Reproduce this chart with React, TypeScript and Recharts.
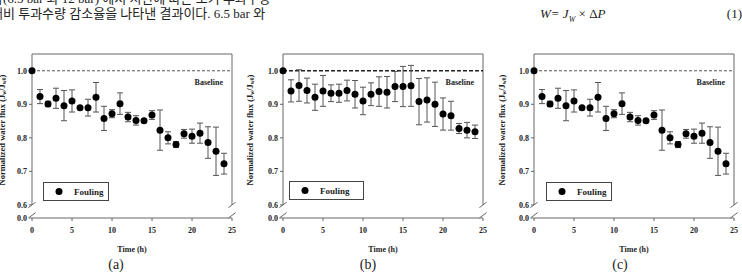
import React from "react";
import {
  ScatterChart,
  Scatter,
  XAxis,
  YAxis,
  ErrorBar,
  ReferenceLine,
  Legend,
} from "recharts";

// operating time (h)
const hours = [
  0, 1, 2, 3, 4, 5, 6, 7, 8, 9, 10, 11, 12, 13, 14, 15, 16, 17, 18, 19, 20, 21,
  22, 23, 24,
];

// normalized flux J_w / J_w0 and its standard deviation
const fluxA = [
  1.0, 0.923, 0.901, 0.918, 0.896, 0.91, 0.89, 0.89, 0.921, 0.858, 0.872,
  0.902, 0.862, 0.852, 0.851, 0.868, 0.823, 0.8, 0.78, 0.812, 0.805, 0.814,
  0.786, 0.76, 0.723,
];
const errA = [
  0, 0.021, 0.008, 0.03, 0.045, 0.033, 0.003, 0.025, 0.044, 0.036, 0.012,
  0.032, 0.014, 0.014, 0.004, 0.013, 0.06, 0.018, 0.009, 0.013, 0.021, 0.03,
  0.047, 0.072, 0.031,
];

const fluxB = [
  1.0, 0.94, 0.956, 0.941, 0.921, 0.94, 0.933, 0.933, 0.941, 0.93, 0.91, 0.93,
  0.938, 0.936, 0.953, 0.953, 0.955, 0.908, 0.913, 0.9, 0.871, 0.866, 0.828,
  0.823, 0.818,
];
const errB = [
  0, 0.033, 0.047, 0.037, 0.039, 0.046, 0.025, 0.027, 0.031, 0.041, 0.041,
  0.034, 0.044, 0.047, 0.045, 0.06, 0.061, 0.069, 0.066, 0.066, 0.048, 0.043,
  0.015, 0.023, 0.02,
];

// (c) repeats the (a) run
const fluxC = fluxA;
const errC = errA;

// the y axis is broken between 0.0 and 0.6; AXIS_BREAK stands in for 0.0
const AXIS_BREAK = 0.561;
const Y_TOP = 1.05;
const yTicks = [AXIS_BREAK, 0.6, 0.7, 0.8, 0.9, 1.0];
const xTicks = [0, 5, 10, 15, 20, 25];

const SERIF = '"Liberation Serif", "Times New Roman", serif';
const KOREAN = '"Liberation Serif", "Noto Sans CJK KR", serif';
const FRAME = "#666";

const axisText = {
  fontFamily: SERIF,
  fontSize: 8,
  fontWeight: 700,
  fill: "#222",
};

function FluxLabel({ viewBox, dx }: any) {
  const vb = viewBox || {};
  const left = (vb.x ?? 40) + (vb.width ?? 32);
  const cx = left + dx;
  const cy = (vb.y ?? 54) + (vb.height ?? 164) / 2 - 6;
  return (
    <text
      x={cx}
      y={cy}
      transform={`rotate(-90 ${cx} ${cy})`}
      textAnchor="middle"
      dominantBaseline="central"
      style={{ ...axisText, fontSize: 8.5 }}
    >
      Normalized water flux (J
      <tspan dy={2} fontSize={5.5}>
        w
      </tspan>
      <tspan dy={-2}>/J</tspan>
      <tspan dy={2} fontSize={5.5}>
        w0
      </tspan>
      <tspan dy={-2}>)</tspan>
    </text>
  );
}

function FoulingKey({ width }: { width: number }) {
  return (
    <div
      style={{
        width,
        height: 17,
        border: "1px solid #444",
        display: "flex",
        alignItems: "center",
        background: "#fff",
        fontFamily: SERIF,
        fontWeight: 700,
        fontSize: 9,
        color: "#222",
      }}
    >
      <svg width={30} height={17}>
        <circle cx={15} cy={8.5} r={3.5} fill="#000" />
      </svg>
      <span>Fouling</span>
    </div>
  );
}

type PanelProps = {
  plotLeft: number;
  flux: number[];
  err: number[];
  heavyBaseline?: boolean;
  keyDx: number;
  keyTop: number;
  keyWidth: number;
  labelDx: number;
};

// two short slashes mark each end of the axis break
const breakSlash = (x: number, y: number) => [
  { x: x - 0.45, y: y - 0.008 },
  { x: x + 0.45, y: y + 0.008 },
];

function Panel({
  plotLeft,
  flux,
  err,
  heavyBaseline,
  keyDx,
  keyTop,
  keyWidth,
  labelDx,
}: PanelProps) {
  const data = hours.map((t, i) => ({ t, flux: flux[i], err: err[i] }));
  const frame = { stroke: FRAME, strokeWidth: 1, ifOverflow: "visible" as const };

  return (
    <div style={{ position: "absolute", left: plotLeft - 72, top: 0 }}>
      <ScatterChart
        width={290}
        height={274}
        margin={{ top: 54, right: 18, bottom: 22, left: 40 }}
      >
        <XAxis
          type="number"
          dataKey="t"
          domain={[0, 25]}
          ticks={xTicks}
          interval={0}
          axisLine={false}
          tickSize={3}
          tickMargin={6}
          tickLine={{ stroke: FRAME }}
          tick={axisText}
          height={34}
          label={{
            value: "Time (h)",
            position: "insideBottom",
            offset: 0,
            style: axisText,
          }}
        />
        <YAxis
          type="number"
          dataKey="flux"
          domain={[AXIS_BREAK, Y_TOP]}
          ticks={yTicks}
          interval={0}
          width={32}
          axisLine={false}
          tickSize={3}
          tickLine={{ stroke: FRAME }}
          tick={axisText}
          tickFormatter={(v: number) => (v < 0.6 ? "0.0" : v.toFixed(1))}
          label={<FluxLabel dx={labelDx} />}
        />

        {/* plot frame, open between the break marks */}
        <ReferenceLine segment={[{ x: 0, y: Y_TOP }, { x: 25, y: Y_TOP }]} {...frame} />
        <ReferenceLine segment={[{ x: 0, y: 0.6 }, { x: 0, y: Y_TOP }]} {...frame} />
        <ReferenceLine segment={[{ x: 25, y: 0.6 }, { x: 25, y: Y_TOP }]} {...frame} />
        <ReferenceLine
          segment={[{ x: 0, y: AXIS_BREAK }, { x: 25, y: AXIS_BREAK }]}
          {...frame}
        />
        <ReferenceLine segment={breakSlash(0, 0.6)} {...frame} />
        <ReferenceLine segment={breakSlash(0, AXIS_BREAK + 0.008)} {...frame} />
        <ReferenceLine segment={breakSlash(25, 0.6)} {...frame} />
        <ReferenceLine segment={breakSlash(25, AXIS_BREAK + 0.008)} {...frame} />

        <ReferenceLine
          y={1.0}
          stroke={heavyBaseline ? "#222" : "#555"}
          strokeWidth={heavyBaseline ? 1.6 : 1}
          strokeDasharray={heavyBaseline ? "4 2" : "3 2"}
          label={{
            value: "Baseline",
            position: "insideTopRight",
            offset: 9,
            style: axisText,
          }}
        />

        <Legend
          layout="vertical"
          align="center"
          verticalAlign="middle"
          content={() => <FoulingKey width={keyWidth} />}
          wrapperStyle={{ left: 72 + keyDx, top: keyTop, width: "auto" }}
        />

        <Scatter
          name="Fouling"
          data={data}
          isAnimationActive={false}
          shape={(p: any) => <circle cx={p.cx} cy={p.cy} r={3.5} fill="#000" />}
        >
          <ErrorBar
            dataKey="err"
            direction="y"
            width={3}
            stroke="#555"
            strokeWidth={1}
          />
        </Scatter>
      </ScatterChart>
    </div>
  );
}

const captionStyle = (x: number): React.CSSProperties => ({
  position: "absolute",
  left: x - 20,
  width: 40,
  top: 256,
  textAlign: "center",
  fontFamily: SERIF,
  fontSize: 14,
  lineHeight: "18px",
  color: "#222",
});

export default function App() {
  return (
    <div
      style={{
        position: "absolute",
        left: 0,
        top: 0,
        width: 742,
        height: 274,
        overflow: "hidden",
        background: "#fff",
        color: "#222",
      }}
    >
      <div
        style={{
          position: "absolute",
          left: -9,
          top: -9,
          fontFamily: KOREAN,
          fontSize: 13,
          lineHeight: "15px",
          whiteSpace: "nowrap",
        }}
      >
        압(6.5 bar 와 12 bar) 에서 시간에 따른 초기 투과수량
        <br />
        대비 투과수량 감소율을 나타낸 결과이다. 6.5 bar 와
      </div>
      <div
        style={{
          position: "absolute",
          left: 540,
          top: 6,
          fontFamily: SERIF,
          fontStyle: "italic",
          fontSize: 13,
          lineHeight: "16px",
          whiteSpace: "nowrap",
        }}
      >
        W= J<sub style={{ fontSize: 8 }}>W</sub>
        <span style={{ fontStyle: "normal" }}> × Δ</span>P
      </div>
      <div
        style={{
          position: "absolute",
          right: 0,
          top: 6,
          fontFamily: SERIF,
          fontSize: 13,
          lineHeight: "16px",
        }}
      >
        (1)
      </div>

      <Panel
        plotLeft={32}
        flux={fluxA}
        err={errA}
        keyDx={11}
        keyTop={182}
        keyWidth={64}
        labelDx={-30}
      />
      <Panel
        plotLeft={283}
        flux={fluxB}
        err={errB}
        heavyBaseline
        keyDx={6}
        keyTop={181}
        keyWidth={73}
        labelDx={-33}
      />
      <Panel
        plotLeft={534}
        flux={fluxC}
        err={errC}
        keyDx={12}
        keyTop={182}
        keyWidth={64}
        labelDx={-32}
      />

      <div style={captionStyle(116)}>(a)</div>
      <div style={captionStyle(368)}>(b)</div>
      <div style={captionStyle(620)}>(c)</div>
    </div>
  );
}
